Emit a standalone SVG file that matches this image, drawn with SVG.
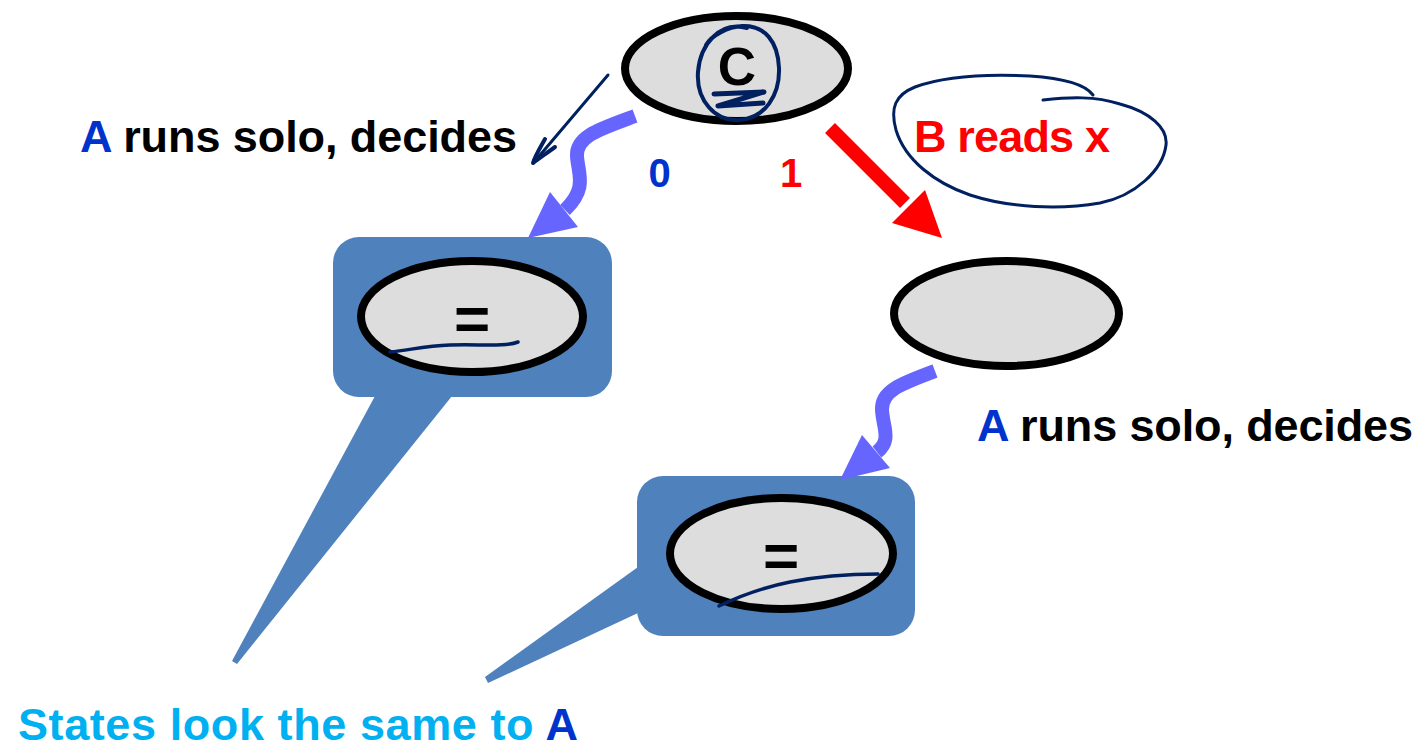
<svg xmlns="http://www.w3.org/2000/svg" width="1421" height="752" viewBox="0 0 1421 752">
  <style>
    .state { fill: #DDDDDD; stroke: #000000; stroke-width: 8; }
    .bubble { fill: #4F81BD; }
    .lbl { font-family: "Liberation Sans", Arial, sans-serif; font-weight: bold; }
    .ink { fill: none; stroke: #002060; stroke-linecap: round; stroke-linejoin: round; }
    .solo { fill: none; stroke: #6666FF; stroke-width: 14; }
    .eq { font-family: "Liberation Sans", Arial, sans-serif; font-weight: bold; font-size: 62px; text-anchor: middle; fill: #000; }
  </style>

  <!-- callout bubbles -->
  <g id="bubble-left">
    <rect class="bubble" x="333" y="237" width="279" height="160" rx="26"/>
    <polygon class="bubble" points="375,396 452,396 237,664 232,661"/>
  </g>
  <g id="bubble-right">
    <rect class="bubble" x="637" y="476" width="278" height="160" rx="26"/>
    <polygon class="bubble" points="638,567 638,613 488,683 485,677"/>
  </g>

  <!-- root state -->
  <g id="root">
    <ellipse class="state" cx="736.5" cy="68.5" rx="111.5" ry="52.5"/>
    <text class="lbl" x="737" y="85" font-size="53" text-anchor="middle" fill="#000">C</text>
    <path class="ink" stroke-width="4" d="M747,28 C720,20 700,45 698,72 C696,100 715,122 740,120 C765,118 780,95 779,68 C778,42 765,25 742,26 C728,27 712,35 706,45"/>
    <path class="ink" stroke-width="5" d="M714,94 L764,92 L718,106 L763,103"/>
  </g>

  <!-- state after A runs solo from root -->
  <g id="left-state">
    <ellipse class="state" cx="472" cy="316.5" rx="111" ry="55.5"/>
    <text class="eq" x="472" y="340">=</text>
    <path class="ink" stroke-width="3.5" d="M390,352 C410,350 425,346 450,345 C480,344 505,347 518,342"/>
  </g>

  <!-- state after B reads x -->
  <g id="right-state">
    <ellipse class="state" cx="1006.5" cy="313.5" rx="112.5" ry="52.5"/>
  </g>

  <!-- state after B reads x, then A runs solo -->
  <g id="bottom-state">
    <ellipse class="state" cx="781.5" cy="553.5" rx="111.5" ry="55.5"/>
    <text class="eq" x="781" y="577">=</text>
    <path class="ink" stroke-width="3.5" d="M719,606 C740,596 760,588 790,582 C820,576 850,574 878,574"/>
  </g>

  <!-- transitions -->
  <g id="connectors">
    <!-- A solo run from root -->
    <path class="solo" d="M635,116 C600,129 576,136 577,156 C578,174 588,188 565,210"/>
    <polygon fill="#6666FF" points="550,192 528,238 578,227"/>
    <!-- A solo run from right state -->
    <path class="solo" d="M935,371 C900,384 881,391 882,410 C883,428 892,440 877,452"/>
    <polygon fill="#6666FF" points="862,435 840,480 890,468"/>
    <!-- B reads x -->
    <line x1="830" y1="128" x2="905" y2="203" stroke="#FF0000" stroke-width="14"/>
    <polygon fill="#FF0000" points="892,223 925,190 942,238"/>
    <!-- pen arrow -->
    <path class="ink" stroke-width="3" d="M608,75 L535,161"/>
    <path class="ink" stroke-width="4" d="M545,139 C540,148 535,156 533,163 C540,158 548,152 555,147"/>
    <!-- pen loop around B reads x -->
    <path class="ink" stroke-width="3" d="M1043,100 C1070,97 1095,96 1120,104 C1150,112 1168,128 1166,145 C1163,170 1135,196 1100,203 C1060,210 1010,208 970,195 C935,183 905,160 896,130 C890,108 895,95 915,87 C945,76 990,74 1030,76 C1060,78 1085,84 1093,95"/>
  </g>

  <!-- labels -->
  <g id="labels">
    <text class="lbl" x="80" y="152" font-size="45" textLength="437" lengthAdjust="spacing"><tspan fill="#0033CC">A</tspan><tspan fill="#000"> runs solo, decides</tspan></text>
    <text class="lbl" x="977" y="441" font-size="45" textLength="436" lengthAdjust="spacing"><tspan fill="#0033CC">A</tspan><tspan fill="#000"> runs solo, decides</tspan></text>
    <text class="lbl" x="659.5" y="187" font-size="40" text-anchor="middle" fill="#0033CC">0</text>
    <text class="lbl" x="791" y="187" font-size="40" text-anchor="middle" fill="#FF0000">1</text>
    <text class="lbl" x="914" y="152" font-size="45" fill="#FF0000" textLength="196" lengthAdjust="spacing">B reads x</text>
    <text class="lbl" x="18" y="740" font-size="45" textLength="560" lengthAdjust="spacing"><tspan fill="#00B0F0">States look the same to </tspan><tspan fill="#0033CC">A</tspan></text>
  </g>
</svg>
